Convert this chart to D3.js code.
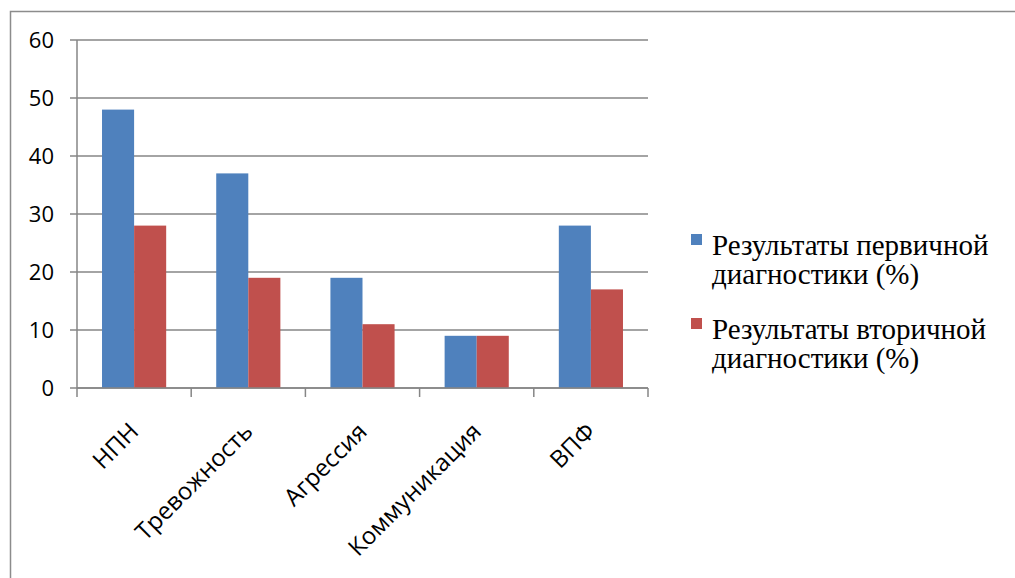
<!DOCTYPE html>
<html>
<head>
<meta charset="utf-8">
<script src="https://cdn.jsdelivr.net/npm/d3@7"></script>
<style>
  body { margin: 0; background: #fff; }
  svg { display: block; }
</style>
</head>
<body>
<div id="container"></div>
<script>
// chart data
const categories = ['НПН', 'Тревожность', 'Агрессия', 'Коммуникация', 'ВПФ'];
const primary = [48, 37, 19, 9, 28];
const secondary = [28, 19, 11, 9, 17];
const seriesNames = [
    ['Результаты первичной', 'диагностики (%)'],
    ['Результаты вторичной', 'диагностики (%)']
];
const yTicks = [0, 10, 20, 30, 40, 50, 60];

const width = 1015;
const height = 578;
const plot = { left: 77, right: 648, top: 40, bottom: 388 };
const colors = ['#4f81bd', '#c0504d'];
const sansFont = "'Open Sans', 'Liberation Sans', sans-serif";
const serifFont = "'Liberation Serif', 'Times New Roman', Times, 'Noto Serif', 'DejaVu Serif', serif";

const svg = d3.select('#container')
              .append('svg')
              .attr('width', width)
              .attr('height', height);

// outer chart border
svg.append('rect')
   .attr('x', 10.5).attr('y', 11.5)
   .attr('width', 1020).attr('height', 600)
   .attr('fill', 'none')
   .attr('stroke', '#8c8c8c')
   .attr('stroke-width', 1.5);

// scales
const xScale = d3.scaleBand()
                 .domain(categories)
                 .range([plot.left, plot.right]);

const inner = d3.scaleBand()
                .domain([0, 1])
                .range([0, xScale.bandwidth()])
                .paddingInner(0)
                .paddingOuter(0.78);

const yScale = d3.scaleLinear()
                 .domain([0, 60])
                 .range([plot.bottom, plot.top]);

// gridlines
svg.append('g')
   .selectAll('line')
   .data(yTicks)
   .enter()
   .append('line')
   .attr('x1', plot.left - 7)
   .attr('x2', plot.right)
   .attr('y1', d => yScale(d))
   .attr('y2', d => yScale(d))
   .attr('stroke', '#868686')
   .attr('stroke-width', 1.5);

// y labels
svg.append('g')
   .selectAll('text')
   .data(yTicks)
   .enter()
   .append('text')
   .attr('x', 54)
   .attr('y', d => yScale(d) + 8)
   .attr('text-anchor', 'end')
   .style('font-family', sansFont)
   .style('font-size', '22px')
   .attr('fill', '#000')
   .text(d => d);

// bars
const series = [primary, secondary];
series.forEach((vals, s) => {
    svg.append('g')
       .selectAll('rect')
       .data(vals)
       .enter()
       .append('rect')
       .attr('x', (d, i) => xScale(categories[i]) + inner(s))
       .attr('y', d => yScale(d))
       .attr('width', inner.bandwidth())
       .attr('height', d => yScale(0) - yScale(d))
       .attr('fill', colors[s]);
});

// y axis line
svg.append('line')
   .attr('x1', plot.left).attr('x2', plot.left)
   .attr('y1', plot.top).attr('y2', plot.bottom)
   .attr('stroke', '#868686')
   .attr('stroke-width', 1.5);

// x axis line + ticks
svg.append('line')
   .attr('x1', plot.left).attr('x2', plot.right)
   .attr('y1', plot.bottom).attr('y2', plot.bottom)
   .attr('stroke', '#868686')
   .attr('stroke-width', 1.5);

const boundaries = categories.map(c => xScale(c)).concat([plot.right]);
svg.append('g')
   .selectAll('line')
   .data(boundaries)
   .enter()
   .append('line')
   .attr('x1', d => d).attr('x2', d => d)
   .attr('y1', plot.bottom).attr('y2', plot.bottom + 9)
   .attr('stroke', '#868686')
   .attr('stroke-width', 1.5);

// x labels, rotated
svg.append('g')
   .selectAll('text')
   .data(categories)
   .enter()
   .append('text')
   .attr('transform', d => `translate(${xScale(d) + xScale.bandwidth() / 2 + 6},${plot.bottom + 45}) rotate(-45)`)
   .attr('text-anchor', 'end')
   .style('font-family', sansFont)
   .style('font-size', '24px')
   .attr('fill', '#000')
   .text(d => d);

// legend
const legend = svg.append('g');
seriesNames.forEach((lines, s) => {
    const y0 = 234 + s * 84;
    legend.append('rect')
          .attr('x', 691).attr('y', y0)
          .attr('width', 11).attr('height', 11)
          .attr('fill', colors[s]);
    lines.forEach((t, k) => {
        legend.append('text')
              .attr('x', 712)
              .attr('y', y0 + 21 + k * 29)
              .style('font-family', serifFont)
              .style('font-size', '29px')
              .attr('fill', '#000')
              .text(t);
    });
});
</script>
</body>
</html>
